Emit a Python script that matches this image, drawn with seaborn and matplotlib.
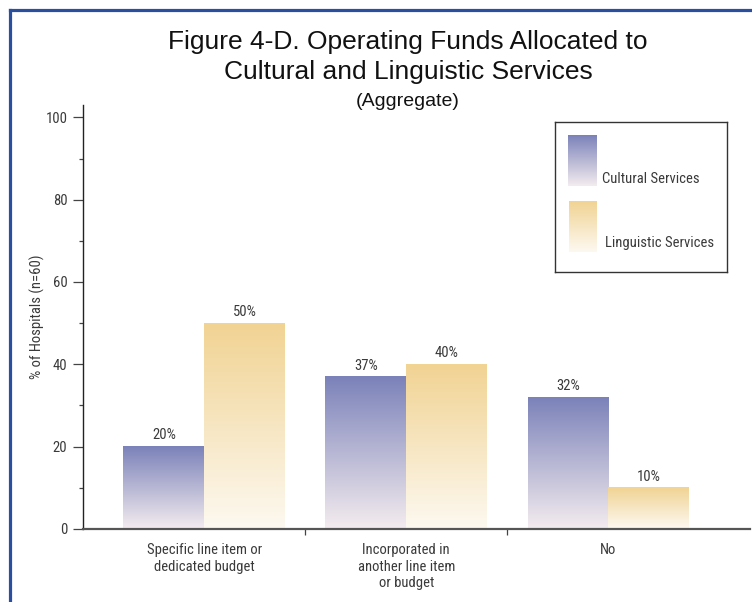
import matplotlib
import matplotlib.pyplot as plt
import numpy as np
import pandas as pd
import seaborn as sns
from matplotlib.colors import LinearSegmentedColormap
from matplotlib.lines import Line2D

matplotlib.use("Agg")

categories = ["Specific line item or\ndedicated budget",
              "Incorporated in\nanother line item\nor budget",
              "No"]
series = ["Cultural Services", "Linguistic Services"]
cultural = [20, 37, 32]
linguistic = [50, 40, 10]

# gradient ends (top, bottom) for each series
grad_colors = {
    "Cultural Services": ("#7b82b9", "#f4ecef"),
    "Linguistic Services": ("#f1d393", "#fdf9f1"),
}

narrow = ["Liberation Sans Narrow", "Roboto Condensed", "DejaVu Sans"]
regular = ["Liberation Sans", "Arial", "DejaVu Sans"]
text_col = "#3a3a3a"

sns.set_style("white")
plt.rcParams["font.family"] = narrow

df = pd.DataFrame({
    "category": categories * 2,
    "series": [series[0]] * 3 + [series[1]] * 3,
    "value": cultural + linguistic,
})

fig = plt.figure(figsize=(7.52, 6.02), dpi=100)
ax = fig.add_axes([0.1104, 0.1213, 0.8866, 0.7043])

sns.barplot(data=df, x="category", y="value", hue="series",
            order=categories, hue_order=series,
            palette=[grad_colors[s][0] for s in series],
            width=0.8, edgecolor="none", linewidth=0,
            legend=False, errorbar=None, ax=ax)

grad = np.linspace(0, 1, 256).reshape(-1, 1)
for cont, name, vals in zip(ax.containers, series, [cultural, linguistic]):
    top, bottom = grad_colors[name]
    cmap = LinearSegmentedColormap.from_list(name, [bottom, top])
    for bar in cont:
        x, w, h = bar.get_x(), bar.get_width(), bar.get_height()
        ax.imshow(grad, extent=[x, x + w, 0, h], origin="lower",
                  aspect="auto", cmap=cmap, zorder=bar.get_zorder(),
                  interpolation="bilinear")
        bar.set_facecolor("none")
    ax.bar_label(cont, labels=[f"{v}%" for v in vals], padding=3,
                 fontsize=10.5, color=text_col)

ax.set_xlim(-0.6, 2.7)
ax.set_ylim(0, 103)
ax.set_aspect("auto")

ax.set_yticks(np.arange(0, 101, 20))
ax.set_yticks(np.arange(10, 100, 20), minor=True)
ax.tick_params(axis="y", which="major", length=7.2, width=0.9,
               color="#444444", direction="out", pad=4,
               labelsize=10.5, labelcolor=text_col, left=True)
ax.tick_params(axis="y", which="minor", length=3, width=0.9,
               color="#444444", direction="out", left=True)

ax.set_xticks([0.5, 1.5])
ax.set_xticklabels([])
ax.set_xticks([0, 1, 2], minor=True)
ax.set_xticklabels(categories, minor=True, fontsize=10.5,
                   color=text_col, linespacing=1.25)
ax.tick_params(axis="x", which="major", length=4, width=0.9,
               color="#444444", direction="out", bottom=True)
ax.tick_params(axis="x", which="minor", length=0, pad=10)

ax.set_xlabel("")
ax.set_ylabel("% of Hospitals (n=60)", fontsize=10.5, color=text_col,
              labelpad=0)

sns.despine(ax=ax)
ax.spines["left"].set_color("#222222")
ax.spines["left"].set_linewidth(1.0)
ax.spines["bottom"].set_color("#555555")
ax.spines["bottom"].set_linewidth(1.6)

fig.text(0.5426, 0.9053,
         "Figure 4-D. Operating Funds Allocated to\nCultural and Linguistic Services",
         ha="center", va="center", fontsize=19, family=regular,
         color="#111111", linespacing=1.3)
fig.text(0.5426, 0.8307, "(Aggregate)", ha="center", va="center",
         fontsize=14, family=regular, color="#111111")

# legend box with gradient swatches
lax = fig.add_axes([555 / 752, 1 - 272 / 602, 172 / 752, 150 / 602])
lax.set_xticks([])
lax.set_yticks([])
for s in lax.spines.values():
    s.set_visible(True)
    s.set_color("#333333")
    s.set_linewidth(1.0)
swatches = [(13, 13, 64, 47, 57), (14, 79, 130, 50, 121)]
for name, (x0, y0, y1, tx, ty) in zip(series, swatches):
    top, bottom = grad_colors[name]
    cmap = LinearSegmentedColormap.from_list(name, [bottom, top])
    lax.imshow(grad, extent=[x0, 42, y1, y0], origin="lower",
               aspect="auto", cmap=cmap, interpolation="bilinear")
    lax.text(tx, ty, name, ha="left", va="center", fontsize=10.5,
             color=text_col)
lax.set_xlim(0, 172)
lax.set_ylim(150, 0)

# blue page frame (left and top edges)
fig.add_artist(Line2D([9.5 / 752, 9.5 / 752], [-0.01, 1 - 9.5 / 602],
                      transform=fig.transFigure, color="#2b4f9f", lw=2.3,
                      solid_capstyle="projecting"))
fig.add_artist(Line2D([9.5 / 752, 1.01], [1 - 9.5 / 602, 1 - 9.5 / 602],
                      transform=fig.transFigure, color="#2b4f9f", lw=2.3,
                      solid_capstyle="projecting"))

fig.savefig("out.png", dpi=100)
plt.close(fig)
